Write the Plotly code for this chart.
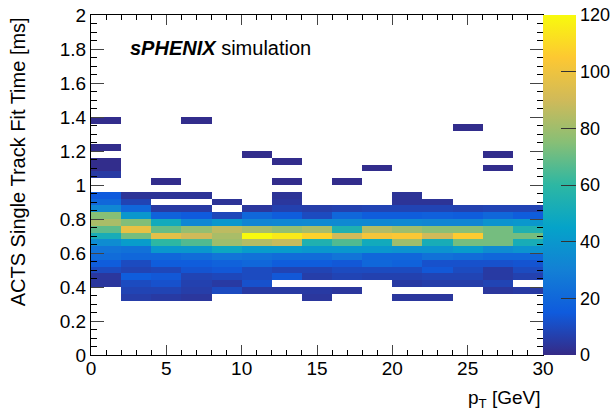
import plotly.graph_objects as go

# ---------------- data ----------------
pt_edges = [0, 2, 4, 6, 8, 10, 12, 14, 16, 18, 20, 22, 24, 26, 28, 30]
time_bin_width = 0.04
n_time_bins = 50
# lower edges of the 16 time bins of the main band (0.32 ... 0.92 ms)
band_time_lows = [0.32, 0.36, 0.40, 0.44, 0.48, 0.52, 0.56, 0.60,
                  0.64, 0.68, 0.72, 0.76, 0.80, 0.84, 0.88, 0.92]

# counts per pT bin, from time bin 0.32 (first) up to 0.92 (last)
band_pt_00_02 = [None, None, 4, 4, 10, 16, 22, 25, 35, 52, 68, 82, 75, 33, 20, 15]
band_pt_02_04 = [6, 8, 10, 16, 8, 10, 20, 24, 42, 72, 98, 74, 40, 20, 8, 3]
band_pt_04_06 = [5, 8, 12, 14, 9, 16, 20, 40, 60, 96, 70, 50, 18, 5, None, 3]
band_pt_06_08 = [4, 6, 7, 8, 13, 16, 22, 40, 66, 90, 78, 33, 15, 5, None, 3]
band_pt_08_10 = [None, 10, 5, 9, 14, 18, 25, 48, 80, 82, 86, 40, 9, None, 3, None]
band_pt_10_12 = [None, 5, 12, 10, 10, 20, 24, 42, 84, 120, 82, 32, 20, 4, None, None]
band_pt_12_14 = [None, 5, None, 14, 8, 16, 22, 42, 88, 115, 78, 33, 16, 7, 4, 3]
band_pt_14_16 = [4, 5, None, 6, 8, 16, 22, 40, 55, 108, 82, 34, 10, 6, None, None]
band_pt_16_18 = [None, 4, None, 8, 10, 14, 25, 40, 66, 90, 55, 34, 20, 7, None, None]
band_pt_18_20 = [None, None, None, 7, 10, 20, 20, 40, 50, 102, 84, 33, 16, 8, None, None]
band_pt_20_22 = [4, None, 5, 7, 10, 18, 20, 38, 80, 104, 80, 34, 16, 8, 3, 3]
band_pt_22_24 = [4, None, 6, 8, 14, 12, 24, 38, 52, 90, 76, 32, 17, 8, 3, None]
band_pt_24_26 = [None, None, 6, 8, 10, 12, 22, 42, 72, 106, 76, 32, 16, 7, None, None]
band_pt_26_28 = [None, 4, 8, 5, 5, 12, 20, 35, 72, 72, 72, 38, 20, 8, None, None]
band_pt_28_30 = [None, 5, None, 7, 10, 13, 20, 38, 52, 72, 55, 40, 16, 8, None, None]

# isolated slow fits (pT bin lower edge, time bin lower edge, count)
outlier_pt_low = [0, 6, 24, 0, 10, 26, 12, 0, 18, 26, 0, 0, 4, 12, 16]
outlier_time_low = [1.36, 1.36, 1.32, 1.20, 1.16, 1.16, 1.12, 1.12,
                    1.08, 1.08, 1.08, 1.04, 1.00, 1.00, 1.00]
outlier_counts = [1, 1, 1, 1, 1, 1, 1, 1, 1, 1, 1, 5, 1, 1, 1]

colorbar_ticks = [0, 20, 40, 60, 80, 100, 120]
y_ticks = [0, 0.2, 0.4, 0.6, 0.8, 1, 1.2, 1.4, 1.6, 1.8, 2]
y_tick_text = ["0", "0.2", "0.4", "0.6", "0.8", "1", "1.2", "1.4", "1.6", "1.8", "2"]
x_ticks = [0, 5, 10, 15, 20, 25, 30]

# ---------------- build histogram matrix ----------------
band_columns = [band_pt_00_02, band_pt_02_04, band_pt_04_06, band_pt_06_08,
                band_pt_08_10, band_pt_10_12, band_pt_12_14, band_pt_14_16,
                band_pt_16_18, band_pt_18_20, band_pt_20_22, band_pt_22_24,
                band_pt_24_26, band_pt_26_28, band_pt_28_30]
n_pt = len(pt_edges) - 1
z = [[None] * n_pt for _ in range(n_time_bins)]
for ci, col in enumerate(band_columns):
    for t_low, v in zip(band_time_lows, col):
        z[int(round(t_low / time_bin_width))][ci] = v
for p, t, v in zip(outlier_pt_low, outlier_time_low, outlier_counts):
    z[int(round(t / time_bin_width))][pt_edges.index(p)] = v

pt_centers = [(pt_edges[i] + pt_edges[i + 1]) / 2 for i in range(n_pt)]
time_centers = [(i + 0.5) * time_bin_width for i in range(n_time_bins)]

# ROOT kBird palette
stops = [0.0, 0.125, 0.25, 0.375, 0.5, 0.625, 0.75, 0.875, 1.0]
red = [0.2082, 0.0592, 0.0780, 0.0232, 0.1802, 0.5301, 0.8186, 0.9956, 0.9764]
green = [0.1664, 0.3599, 0.5041, 0.6419, 0.7178, 0.7492, 0.7328, 0.7862, 0.9832]
blue = [0.5293, 0.8684, 0.8385, 0.7914, 0.6425, 0.4662, 0.3499, 0.1968, 0.0539]
bird = [[s, "rgb(%d,%d,%d)" % (r * 255, g * 255, b * 255)]
        for s, r, g, b in zip(stops, red, green, blue)]

FONT = "Liberation Sans, Arial, Helvetica, sans-serif"

fig = go.Figure(go.Heatmap(
    x=pt_centers, y=time_centers, z=z,
    colorscale=bird, zmin=0, zmax=120,
    hoverongaps=False,
    colorbar=dict(
        x=1.0, xanchor="left", xpad=0, y=0.5, yanchor="middle", ypad=0,
        len=1, lenmode="fraction", thickness=33, outlinewidth=0,
        tickvals=colorbar_ticks, ticks="inside", ticklen=15,
        tickcolor="#333333", tickwidth=1,
        tickfont=dict(family=FONT, size=18, color="black"),
    ),
))

fig.update_layout(
    width=611, height=415,
    margin=dict(l=91, r=68, t=15, b=60, autoexpand=False),
    paper_bgcolor="white", plot_bgcolor="white",
    font=dict(family=FONT, size=19, color="black"),
    xaxis=dict(
        range=[0, 30], tickvals=x_ticks, ticks="inside", ticklen=10,
        showline=True, linecolor="black", linewidth=1, mirror="allticks",
        showgrid=False, zeroline=False, automargin=False,
        ticklabelstandoff=-4,
        minor=dict(dtick=1, ticks="inside", ticklen=5, tickcolor="black", showgrid=False),
        tickfont=dict(family=FONT, size=19),
    ),
    yaxis=dict(
        range=[0, 2], tickvals=y_ticks, ticktext=y_tick_text, ticks="inside", ticklen=13,
        showline=True, linecolor="black", linewidth=1, mirror="allticks",
        showgrid=False, zeroline=False, automargin=False,
        minor=dict(dtick=0.05, ticks="inside", ticklen=6, tickcolor="black", showgrid=False),
        tickfont=dict(family=FONT, size=19),
    ),
    annotations=[
        dict(text="<b><i>sPHENIX</i></b> simulation", xref="paper", yref="paper",
             x=0.082, y=0.903, xanchor="left", yanchor="middle", showarrow=False,
             font=dict(family=FONT, size=20)),
        dict(text="p<sub>T</sub> [GeV]", xref="paper", yref="paper",
             x=1.0, y=-0.13, xanchor="right", yanchor="middle", showarrow=False,
             font=dict(family=FONT, size=19)),
        dict(text="ACTS Single Track Fit Time [ms]", xref="paper", yref="paper",
             x=-0.162, y=1.0, xanchor="center", yanchor="top", textangle=-90,
             showarrow=False, font=dict(family=FONT, size=20)),
    ],
)

# remove the browser's default 8 px page margin so the figure fills the window
fig.write_html("out.html", config={"displayModeBar": False},
               post_script="document.body.style.margin='0';document.body.style.overflow='hidden';")
